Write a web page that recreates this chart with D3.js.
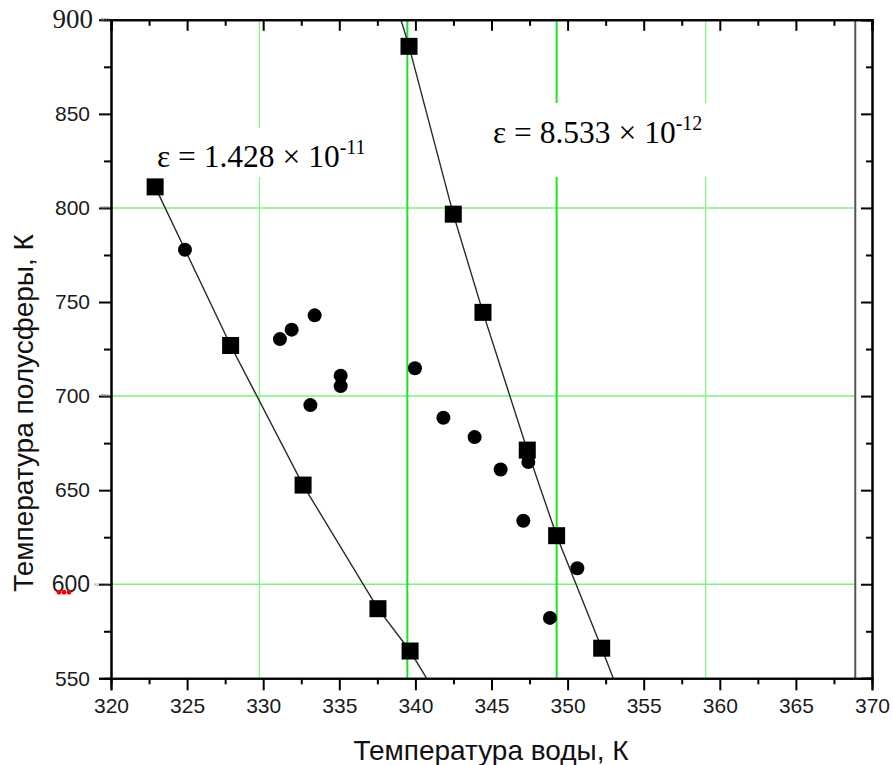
<!DOCTYPE html>
<html>
<head>
<meta charset="utf-8">
<script src="https://cdn.jsdelivr.net/npm/d3@7"></script>
<style>
  html, body { margin: 0; padding: 0; background: #fff; }
  svg { display: block; }
</style>
</head>
<body>
<svg id="chart" width="893" height="765"></svg>
<script>
// Axis ticks
const xMajorTicks = [320, 325, 330, 335, 340, 345, 350, 355, 360, 365, 370];
const xMinorTicks = [322.5, 327.5, 332.5, 337.5, 342.5, 347.5, 352.5, 357.5, 362.5, 367.5];
const yMajorTicks = [550, 600, 650, 700, 750, 800, 850, 900];
const yMinorTicks = [575, 625, 675, 725, 775, 825, 875];

// Grid lines
const gridX = [329.75, 339.47, 349.28, 359.07];
const gridXBright = [false, true, true, false];
const gridY = [600, 700, 800];
const edgeLineX = 368.9;

// Calculated points, ε = 1.428e-11
const calcLowX = [322.9, 327.86, 332.62, 337.54, 339.65];
const calcLowY = [811.2, 726.9, 652.7, 587.0, 564.5];
// Curve through them, continued to the axis
const curveLowX = [322.9, 327.86, 332.62, 337.54, 339.65, 340.74];
const curveLowY = [811.2, 726.9, 652.7, 587.0, 564.5, 550];

// Calculated points, ε = 8.533e-12
const calcHighX = [339.58, 342.49, 344.44, 347.35, 349.28, 352.24];
const calcHighY = [885.9, 796.7, 744.5, 671.3, 625.8, 566.0];
const curveHighX = [339.05, 339.58, 342.49, 344.44, 347.35, 349.28, 352.24, 353.0];
const curveHighY = [900, 885.9, 796.7, 744.5, 671.3, 625.8, 566.0, 550];

// Measured points
const measX = [324.86, 331.10, 331.87, 333.38, 335.09, 335.09, 333.10, 339.97, 341.84, 343.89, 345.60, 347.42, 347.09, 350.64, 348.84];
const measY = [777.8, 730.3, 735.3, 742.9, 710.8, 705.3, 695.2, 714.8, 688.5, 678.2, 661.0, 665.0, 633.7, 608.5, 582.1];

// Annotations
const epsLabels = ["ε = 1.428 × 10", "ε = 8.533 × 10"];
const epsExponents = ["-11", "-12"];
const xTitle = "Температура воды, К";
const yTitle = "Температура полусферы, К";

const svg = d3.select("#chart");
const x = d3.scaleLinear().domain([320, 370]).range([111, 872]);
const y = d3.scaleLinear().domain([550, 900]).range([678.3, 19.8]);
const [x0, x1] = x.range();
const [y0, y1] = y.range();

// grid
const grid = svg.append("g");
grid.selectAll("line.gy").data(gridY).join("line")
  .attr("x1", x0).attr("x2", x(edgeLineX))
  .attr("y1", d => y(d)).attr("y2", d => y(d))
  .attr("stroke", "#7df27d").attr("stroke-width", 1.5);
grid.selectAll("line.gx").data(gridX).join("line")
  .attr("x1", d => x(d)).attr("x2", d => x(d))
  .attr("y1", y1).attr("y2", y0)
  .attr("stroke", (d, i) => gridXBright[i] ? "#22e022" : "#85f585")
  .attr("stroke-width", (d, i) => gridXBright[i] ? 2 : 1.3);

// right-hand boundary line
svg.append("line")
  .attr("x1", x(edgeLineX)).attr("x2", x(edgeLineX))
  .attr("y1", y1).attr("y2", y0)
  .attr("stroke", "#555").attr("stroke-width", 2);

// white boxes behind annotations
const boxes = [[150, 128, 222, 49], [488, 103, 222, 74]];
svg.selectAll("rect.box").data(boxes).join("rect")
  .attr("x", d => d[0]).attr("y", d => d[1])
  .attr("width", d => d[2]).attr("height", d => d[3])
  .attr("fill", "#fff");

// curves
const line = d3.line().x(d => x(d[0])).y(d => y(d[1]));
const curves = [d3.zip(curveLowX, curveLowY), d3.zip(curveHighX, curveHighY)];
svg.selectAll("path.curve").data(curves).join("path")
  .attr("d", line)
  .attr("fill", "none").attr("stroke", "#2a2a2a").attr("stroke-width", 1.4);

// measured circles
svg.selectAll("circle.m").data(d3.zip(measX, measY)).join("circle")
  .attr("cx", d => x(d[0])).attr("cy", d => y(d[1])).attr("r", 7)
  .attr("fill", "#000");

// calculated squares
const sq = 17;
const squares = d3.zip(calcLowX, calcLowY).concat(d3.zip(calcHighX, calcHighY));
svg.selectAll("rect.sq").data(squares).join("rect")
  .attr("x", d => x(d[0]) - sq / 2).attr("y", d => y(d[1]) - sq / 2)
  .attr("width", sq).attr("height", sq)
  .attr("fill", "#000");

// axes
function styleAxis(g) {
  g.select(".domain").attr("stroke", "#000").attr("stroke-width", 2);
  g.selectAll(".tick line").attr("stroke", "#000").attr("stroke-width", 2);
  g.selectAll(".tick text").attr("fill", "#1a1a1a")
    .attr("font-family", "Liberation Sans, Arial, sans-serif").attr("font-size", 21);
}
// bottom
svg.append("g").attr("transform", `translate(0,${y0})`)
  .call(d3.axisBottom(x).tickValues(xMajorTicks).tickSize(12).tickPadding(8).tickFormat(d3.format("d")))
  .call(styleAxis);
svg.append("g").attr("transform", `translate(0,${y0})`)
  .call(d3.axisBottom(x).tickValues(xMinorTicks).tickSize(6).tickFormat(""))
  .call(styleAxis);
// top (inward ticks)
svg.append("g").attr("transform", `translate(0,${y1})`)
  .call(d3.axisBottom(x).tickValues(xMajorTicks).tickSize(11).tickFormat(""))
  .call(styleAxis);
svg.append("g").attr("transform", `translate(0,${y1})`)
  .call(d3.axisBottom(x).tickValues(xMinorTicks).tickSize(6).tickFormat(""))
  .call(styleAxis);
// left
const leftAxis = svg.append("g").attr("transform", `translate(${x0},0)`)
  .call(d3.axisLeft(y).tickValues(yMajorTicks).tickSize(12).tickPadding(9).tickFormat(d3.format("d")))
  .call(styleAxis);
svg.append("g").attr("transform", `translate(${x0},0)`)
  .call(d3.axisLeft(y).tickValues(yMinorTicks).tickSize(7).tickFormat(""))
  .call(styleAxis);
// right (inward ticks)
svg.append("g").attr("transform", `translate(${x1},0)`)
  .call(d3.axisLeft(y).tickValues(yMajorTicks).tickSize(11).tickFormat(""))
  .call(styleAxis);
svg.append("g").attr("transform", `translate(${x1},0)`)
  .call(d3.axisLeft(y).tickValues(yMinorTicks).tickSize(6).tickFormat(""))
  .call(styleAxis);

leftAxis.selectAll(".tick line").filter(d => d === 900).remove();
leftAxis.selectAll(".tick text").filter(d => d === 900)
  .attr("font-family", "Liberation Serif, Times New Roman, serif").attr("font-size", 27)
  .attr("x", -18).attr("dy", "0.3em");
leftAxis.selectAll(".tick text").filter(d => d === 600).attr("font-size", 23);

// small grey value tags beside the left axis
const tags = [[900, "900"], [800, "800"], [700, "700"], [600, "600.75000"]];
svg.selectAll("text.tag").data(tags).join("text")
  .attr("x", x0 - 2).attr("y", d => y(d[0]) + 2)
  .attr("text-anchor", "end")
  .attr("font-family", "Liberation Sans, Arial, sans-serif")
  .attr("font-size", d => d[1].length > 4 ? 3.2 : 5)
  .attr("fill", "#777").text(d => d[1]);
svg.selectAll("circle.red").data([0, 1, 2]).join("circle")
  .attr("cx", d => 59 + d * 5).attr("cy", y(600) + 8).attr("r", 2.4)
  .attr("fill", "#f00");

// annotations
const labelPos = [[157, 167], [493, 143]];
epsLabels.forEach((t, i) => {
  const txt = svg.append("text")
    .attr("x", labelPos[i][0]).attr("y", labelPos[i][1])
    .attr("font-family", "Liberation Serif, Times New Roman, serif")
    .attr("font-size", 31.5).attr("fill", "#000");
  txt.append("tspan").text(t);
  txt.append("tspan").attr("font-size", 20).attr("dy", -13).text(epsExponents[i]);
});

// axis titles
svg.append("text")
  .attr("x", 491).attr("y", 760).attr("text-anchor", "middle")
  .attr("font-family", "Liberation Sans, Arial, sans-serif").attr("font-size", 28)
  .attr("fill", "#111").text(xTitle);
svg.append("text")
  .attr("transform", "translate(33,413) rotate(-90)").attr("text-anchor", "middle")
  .attr("font-family", "Liberation Sans, Arial, sans-serif").attr("font-size", 28)
  .attr("fill", "#111").text(yTitle);
</script>
</body>
</html>
